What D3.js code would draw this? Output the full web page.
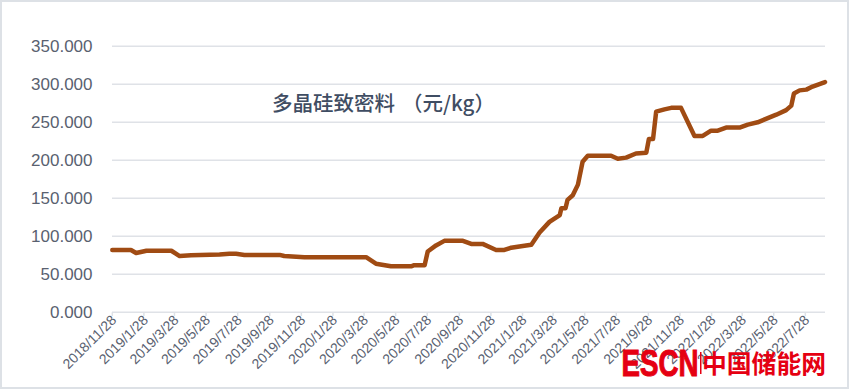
<!DOCTYPE html>
<html><head><meta charset="utf-8">
<script src="https://cdn.jsdelivr.net/npm/d3@7"></script>
<style>
html,body{margin:0;padding:0;background:#fff;}
svg{display:block;}
</style></head>
<body>
<svg id="chart" width="849" height="389"></svg>
<script>
// ---- data ----
const dates = [
"2018/11/28","2019/1/3","2019/1/13","2019/2/2","2019/3/22","2019/4/7","2019/4/29","2019/6/23","2019/7/12","2019/7/25",
"2019/8/10","2019/10/17","2019/10/26","2019/12/4","2020/4/1","2020/4/20","2020/5/19","2020/6/27","2020/7/3","2020/7/23",
"2020/7/29","2020/8/14","2020/8/30","2020/10/5","2020/10/21","2020/11/12","2020/12/8","2020/12/24","2021/1/6","2021/2/4",
"2021/2/14","2021/3/2","2021/3/21","2021/4/10","2021/4/13","2021/4/21","2021/4/25","2021/5/5","2021/5/15","2021/5/24",
"2021/6/3","2021/7/18","2021/7/31","2021/8/16","2021/9/4","2021/9/24","2021/9/29","2021/10/7","2021/10/13","2021/10/29",
"2021/11/11","2021/11/30","2021/12/26","2022/1/11","2022/1/27","2022/2/9","2022/2/25","2022/3/23","2022/4/8","2022/4/27",
"2022/6/2","2022/6/21","2022/7/1","2022/7/6","2022/7/17","2022/7/30","2022/8/11","2022/9/4"
];
const prices = [
82,82,78,81,81,74,75,76,77,77,
75.5,75.5,74,72.5,72.5,64,60.5,60.5,62,62,
80,88,94,94,90,90,82,82,85,88,
89,105,119,128,137,137,148,154,168,198,
206,206,202,203.5,209,210,228,228,264,267,
269,269,232,232,239,239,243,243,247,250,
260,266,272,288,292,293,297,303
];
const xTickLabels = [
"2018/11/28","2019/1/28","2019/3/28","2019/5/28","2019/7/28","2019/9/28","2019/11/28",
"2020/1/28","2020/3/28","2020/5/28","2020/7/28","2020/9/28","2020/11/28",
"2021/1/28","2021/3/28","2021/5/28","2021/7/28","2021/9/28","2021/11/28",
"2022/1/28","2022/3/28","2022/5/28","2022/7/28"
];
const yTicks = [0,50,100,150,200,250,300,350];
const domainStart = "2018/11/28", domainEnd = "2022/9/4";
const titleMain = "多晶硅致密料";
const titleUnit = "（元/kg）";
const logoLatin = "ESCN";
const logoCJK = "中国储能网";

// ---- drawing ----
const parse = d3.timeParse("%Y/%m/%d");
const svg = d3.select("#chart");
const W = 849, H = 389;

svg.append("rect").attr("x",1).attr("y",1).attr("width",W-2).attr("height",H-2)
  .attr("fill","#fff").attr("stroke","#dde1e6").attr("stroke-width",2);

const x = d3.scaleTime().domain([parse(domainStart), parse(domainEnd)]).range([112.3, 825]);
const y = d3.scaleLinear().domain([0,350]).range([312.3, 46.3]);

// gridlines
svg.append("g").selectAll("line").data(yTicks).join("line")
  .attr("x1",112).attr("x2",825)
  .attr("y1",d=>y(d)).attr("y2",d=>y(d))
  .attr("stroke","#dfe2e7").attr("stroke-width",1.5);

// y labels
svg.append("g").selectAll("text").data(yTicks).join("text")
  .attr("x",92.5).attr("y",d=>y(d)).attr("dy","0.35em")
  .attr("text-anchor","end")
  .attr("font-family","Liberation Sans, Arial, sans-serif")
  .attr("font-size",17).attr("fill","#596170")
  .text(d3.format(".3f"));

// x ticks + labels
const xt = xTickLabels.map(s=>({s, d:parse(s)}));
svg.append("g").selectAll("line").data(xt).join("line")
  .attr("x1",d=>x(d.d)).attr("x2",d=>x(d.d))
  .attr("y1",312.3).attr("y2",316)
  .attr("stroke","#dfe2e7").attr("stroke-width",1.5);
svg.append("g").selectAll("text").data(xt).join("text")
  .attr("transform",d=>`translate(${x(d.d)+5},${321}) rotate(-45)`)
  .attr("text-anchor","end")
  .attr("font-family","Liberation Sans, Arial, sans-serif")
  .attr("font-size",14).attr("fill","#596170")
  .text(d=>d.s);

// line
const pts = dates.map((s,i)=>({d:parse(s), v:prices[i]}));
svg.append("path").datum(pts)
  .attr("fill","none").attr("stroke","#a04b13").attr("stroke-width",4.5)
  .attr("stroke-linejoin","round").attr("stroke-linecap","round")
  .attr("d", d3.line().x(p=>x(p.d)).y(p=>y(p.v)));

// title
svg.append("text").attr("x",272).attr("y",111)
  .attr("font-family","Noto Sans CJK SC, sans-serif").attr("font-size",20.5).attr("font-weight",500)
  .attr("fill","#3f4d63").text(titleMain);
svg.append("text").attr("x",402).attr("y",111)
  .attr("font-family","Noto Sans CJK SC, sans-serif").attr("font-size",20.5).attr("font-weight",500)
  .attr("fill","#3f4d63").text(titleUnit);

// logo
svg.append("text").attr("x",621.5).attr("y",376)
  .attr("font-family","Liberation Sans Narrow, Arial Narrow, Liberation Sans, sans-serif")
  .attr("font-weight","bold").attr("font-size",36)
  .attr("textLength",77).attr("lengthAdjust","spacingAndGlyphs")
  .attr("stroke","#e50012").attr("stroke-width",1)
  .attr("fill","#e50012").text(logoLatin);
svg.append("rect").attr("x",700).attr("y",352).attr("width",1.5).attr("height",22).attr("fill","#e50012");
svg.append("text").attr("x",702).attr("y",373)
  .attr("font-family","Noto Sans CJK SC, sans-serif")
  .attr("font-weight","bold").attr("font-size",25)
  .attr("textLength",124).attr("lengthAdjust","spacingAndGlyphs")
  .attr("fill","#e50012").text(logoCJK);
</script>
</body></html>
